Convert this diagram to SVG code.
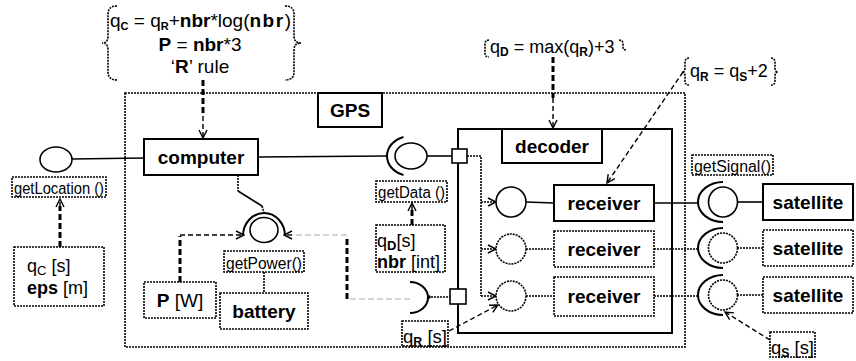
<svg xmlns="http://www.w3.org/2000/svg" width="856" height="361" viewBox="0 0 856 361">
<defs>
<marker id="arr" viewBox="0 0 10 10" refX="9" refY="5" markerWidth="10" markerHeight="10" markerUnits="userSpaceOnUse" orient="auto"><path d="M1,1 L9,5 L1,9" fill="none" stroke="#000" stroke-width="1.4"/></marker>
<style>
.box{fill:#fff;stroke:#000;stroke-width:2}
.dbox{fill:#fff;stroke:#000;stroke-width:1.6;stroke-dasharray:2,1}
.ln{fill:none;stroke:#000;stroke-width:1.6}
.dl{fill:none;stroke:#000;stroke-width:1.6;stroke-dasharray:2,1}
.th{fill:none;stroke:#000;stroke-width:3;stroke-dasharray:6,3}
.dsh{fill:none;stroke:#000;stroke-width:1.4;stroke-dasharray:5,3}
.gr{fill:none;stroke:#aaa;stroke-width:1.2;stroke-dasharray:6,3}
.lb{font-family:"Liberation Sans",Arial,sans-serif;font-weight:bold;font-size:19px;text-anchor:middle}
.sm{font-family:"Liberation Sans",Arial,sans-serif;font-size:16px}
.tx{font-family:"Liberation Sans",Arial,sans-serif;font-size:18px}
.b{font-weight:bold}
.sub{font-weight:bold;font-size:12px}
</style>
</defs>
<rect width="856" height="361" fill="#fff"/>

<g id="gps">
<rect class="dbox" x="125" y="93" width="560" height="254"/>
<rect class="box" x="318" y="93" width="64" height="34"/>
<text class="lb" x="350" y="117">GPS</text>
</g>

<g id="decoder-container">
<rect class="ln" x="458" y="129" width="214" height="204" style="stroke-width:2"/>
</g>

<g id="annotation-top">
<path class="dl" d="M117 6 Q108 6 108 14 L108 36 Q108 43 102 43 Q108 43 108 50 L108 72 Q108 80 117 80"/>
<path class="dl" d="M285 6 Q294 6 294 14 L294 36 Q294 43 301 43 Q294 43 294 50 L294 72 Q294 80 285 80"/>
<text class="tx" x="110" y="27" style="font-size:19px">q<tspan class="sub" dy="3" style="font-size:11px">C</tspan><tspan dy="-3"> = q</tspan><tspan class="sub" dy="3" style="font-size:11px">R</tspan><tspan dy="-3">+</tspan><tspan class="b">nbr</tspan>*log(<tspan class="b" letter-spacing="1.5">nbr</tspan>)</text>
<text class="tx" x="200" y="51" text-anchor="middle" style="font-size:19px"><tspan class="b">P</tspan> = <tspan class="b">nbr</tspan>*3</text>
<text class="tx" x="200" y="73" text-anchor="middle" style="font-size:19px">‘<tspan class="b">R</tspan>’ rule</text>
</g>

<g id="annotation-qD">
<path class="dl" d="M489 40 Q485 40 485 44 L485 53 Q485 57 489 57"/>
<path class="dl" d="M619 40 Q623 40 623 44 L623 47 Q623 50 626 50"/>
<text class="tx" x="490" y="53">q<tspan class="sub" dy="3">D</tspan><tspan dy="-3"> = max(q</tspan><tspan class="sub" dy="3">R</tspan><tspan dy="-3">)+3</tspan></text>
</g>

<g id="annotation-qR">
<path class="dl" d="M689 58 Q685 58 685 63 L685 68 Q685 72 682 72 Q685 72 685 76 L685 81 Q685 85 689 85"/>
<path class="dl" d="M771 58 Q775 58 775 63 L775 68 Q775 72 778 72 Q775 72 775 76 L775 81 Q775 85 771 85"/>
<text class="tx" x="690" y="77">q<tspan class="sub" dy="4">R</tspan><tspan dy="-4"> = q</tspan><tspan class="sub" dy="4">S</tspan><tspan dy="-4">+2</tspan></text>
</g>

<g id="connectors">
<line class="ln" x1="72" y1="159" x2="144" y2="158"/>
<line class="ln" x1="258" y1="157" x2="387" y2="156"/>
<line class="ln" x1="427" y1="156" x2="452" y2="156"/>
<path class="th" d="M60 247 L60 206"/>
<path class="dsh" d="M60 207 L60 199" marker-end="url(#arr)"/>
<path class="th" d="M203 80 L203 116"/>
<path class="dsh" d="M203 116 L203 138" marker-end="url(#arr)"/>
<path class="th" d="M553 57 L553 98"/>
<path class="dsh" d="M553 98 L553 128" marker-end="url(#arr)"/>
<path class="dsh" d="M683 72 L607 183" marker-end="url(#arr)"/>
<path class="dl" d="M238 175 L238 191"/>
<path class="ln" d="M238 191 L262 206"/>
<path class="dl" d="M262 206 L264 213"/>
<path class="dl" d="M264 272 L264 293"/>
<path class="th" d="M180 282 L180 236"/>
<path class="dsh" d="M180 235 L244 235" marker-end="url(#arr)"/>
<path class="gr" d="M410 299 L347 299"/>
<path class="th" d="M347 299 L347 236"/>
<path class="gr" d="M347 235 L292 235"/>
<path class="dsh" d="M292 235 L284 235" marker-end="url(#arr)"/>
<path class="th" d="M412 225 L412 210"/>
<path class="dsh" d="M412 210 L412 203" marker-end="url(#arr)"/>
<line class="dl" x1="428" y1="297" x2="450" y2="297"/>
<circle cx="429" cy="297" r="1.8" fill="#000"/>
<path class="dl" d="M467 156 L481 156 L481 296"/>
<path class="dl" d="M481 202 L496 202" marker-end="url(#arr)"/>
<path class="dl" d="M481 249 L496 249" marker-end="url(#arr)"/>
<path class="dl" d="M481 296 L496 296" marker-end="url(#arr)"/>
<path class="dsh" d="M449 331 L498 305" marker-end="url(#arr)"/>
<line class="ln" x1="526" y1="202" x2="554" y2="203"/>
<line class="dl" x1="526" y1="249" x2="554" y2="249"/>
<line class="dl" x1="526" y1="296" x2="554" y2="296"/>
<line class="ln" x1="654" y1="203" x2="698" y2="203"/>
<line class="dl" x1="654" y1="249" x2="698" y2="249"/>
<line class="dl" x1="654" y1="296" x2="698" y2="296"/>
<line class="ln" x1="737" y1="202" x2="763" y2="202"/>
<line class="dl" x1="737" y1="248" x2="763" y2="248"/>
<line class="dl" x1="737" y1="295" x2="763" y2="295"/>
<path class="dsh" d="M770 340 L725 312" marker-end="url(#arr)"/>
</g>

<g id="port-location">
<ellipse class="ln" cx="56" cy="159.5" rx="16" ry="12.5" style="fill:#fff"/>
<rect class="dbox" x="12" y="177" width="94" height="20"/>
<text class="sm" x="14" y="194" textLength="90" lengthAdjust="spacingAndGlyphs">getLocation ()</text>
</g>

<g id="qC-box">
<rect class="dbox" x="14" y="247" width="90" height="59"/>
<text class="tx" x="27" y="272">q<tspan class="sub" dy="3" style="font-weight:normal;font-size:13px">C</tspan><tspan dy="-3"> [s]</tspan></text>
<text class="tx" x="27" y="294"><tspan class="b">eps</tspan> [m]</text>
</g>

<g id="computer">
<rect class="box" x="144" y="139" width="114" height="36"/>
<text class="lb" x="201" y="164">computer</text>
</g>

<g id="port-getPower">
<ellipse class="ln" cx="264" cy="230" rx="14" ry="12.5" style="fill:#fff"/>
<path class="ln" d="M243 236 A21 23 0 0 1 285 236" style="stroke-width:2"/>
<rect class="dbox" x="224" y="251" width="80" height="21"/>
<text class="sm" x="226" y="269" textLength="76" lengthAdjust="spacingAndGlyphs">getPower()</text>
</g>

<g id="P-box">
<rect class="dbox" x="144" y="282" width="72" height="36"/>
<text class="tx" x="180" y="307" text-anchor="middle" style="font-size:19px"><tspan class="b">P</tspan> [W]</text>
</g>

<g id="battery">
<rect class="dbox" x="220" y="293" width="88" height="36"/>
<text class="lb" x="264" y="318">battery</text>
</g>

<g id="port-getData">
<ellipse class="ln" cx="411" cy="156" rx="16" ry="13" style="fill:#fff"/>
<path class="ln" d="M403.5 137 A24 20 0 0 0 403.5 175" style="stroke-width:2"/>
<rect class="dbox" x="376" y="181" width="71" height="21"/>
<text class="sm" x="378" y="198" textLength="67" lengthAdjust="spacingAndGlyphs">getData ()</text>
</g>

<g id="qD-box">
<rect class="dbox" x="376" y="225" width="69" height="47"/>
<text class="tx" x="377" y="247">q<tspan class="sub" dy="3" style="font-size:13px">D</tspan><tspan dy="-3">[s]</tspan></text>
<text class="tx" x="377" y="268"><tspan class="b">nbr</tspan> [int]</text>
</g>

<g id="port-bottom">
<path class="ln" d="M410 282 A18 15.5 0 0 1 410 313" style="stroke-width:2"/>
<rect class="ln" x="450" y="289" width="16" height="15" style="fill:#fff"/>
</g>

<g id="port-top">
<rect class="ln" x="452" y="149" width="15" height="14" style="fill:#fff"/>
</g>

<g id="qR-box">
<rect class="dbox" x="402" y="321" width="46" height="25"/>
<text class="tx" x="403" y="343" textLength="44" lengthAdjust="spacingAndGlyphs">q<tspan class="sub" dy="3" style="font-size:12px">R</tspan><tspan dy="-3"> [s]</tspan></text>
</g>

<g id="decoder">
<rect class="box" x="502" y="129" width="100" height="34"/>
<text class="lb" x="552" y="153">decoder</text>
</g>

<g id="receiver1">
<circle class="ln" cx="511" cy="202" r="15" style="fill:#fff"/>
<rect class="box" x="554" y="185" width="100" height="36"/>
<text class="lb" x="604" y="210">receiver</text>
</g>
<g id="receiver2">
<circle class="dl" cx="511" cy="249" r="15" style="fill:#fff"/>
<rect class="dbox" x="554" y="231" width="100" height="36"/>
<text class="lb" x="604" y="256">receiver</text>
</g>
<g id="receiver3">
<circle class="dl" cx="511" cy="296" r="15" style="fill:#fff"/>
<rect class="dbox" x="554" y="277" width="100" height="39"/>
<text class="lb" x="604" y="303">receiver</text>
</g>

<g id="port-getSignal">
<rect class="dbox" x="692" y="155" width="81" height="20"/>
<text class="sm" x="694" y="172" textLength="77" lengthAdjust="spacingAndGlyphs">getSignal()</text>
</g>

<g id="satellite1">
<ellipse class="ln" cx="723" cy="202" rx="14.5" ry="15" style="fill:#fff"/>
<path class="ln" d="M723 182 A25 20 0 0 0 723 222" style="stroke-width:2"/>
<rect class="box" x="763" y="184" width="90" height="36"/>
<text class="lb" x="808" y="209">satellite</text>
</g>
<g id="satellite2">
<ellipse class="dl" cx="723" cy="248" rx="14.5" ry="15" style="fill:#fff"/>
<path class="ln" d="M723 228 A25 20 0 0 0 723 268" style="stroke-width:2"/>
<rect class="dbox" x="763" y="230" width="90" height="36"/>
<text class="lb" x="808" y="255">satellite</text>
</g>
<g id="satellite3">
<ellipse class="dl" cx="723" cy="295" rx="14.5" ry="15" style="fill:#fff"/>
<path class="ln" d="M723 275 A25 20 0 0 0 723 315" style="stroke-width:2"/>
<rect class="dbox" x="763" y="277" width="90" height="36"/>
<text class="lb" x="808" y="302">satellite</text>
</g>

<g id="qS-box">
<rect class="dbox" x="770" y="332" width="45" height="25"/>
<text class="tx" x="771" y="354" textLength="43" lengthAdjust="spacingAndGlyphs">q<tspan class="sub" dy="3" style="font-size:12px">S</tspan><tspan dy="-3"> [s]</tspan></text>
</g>
</svg>
